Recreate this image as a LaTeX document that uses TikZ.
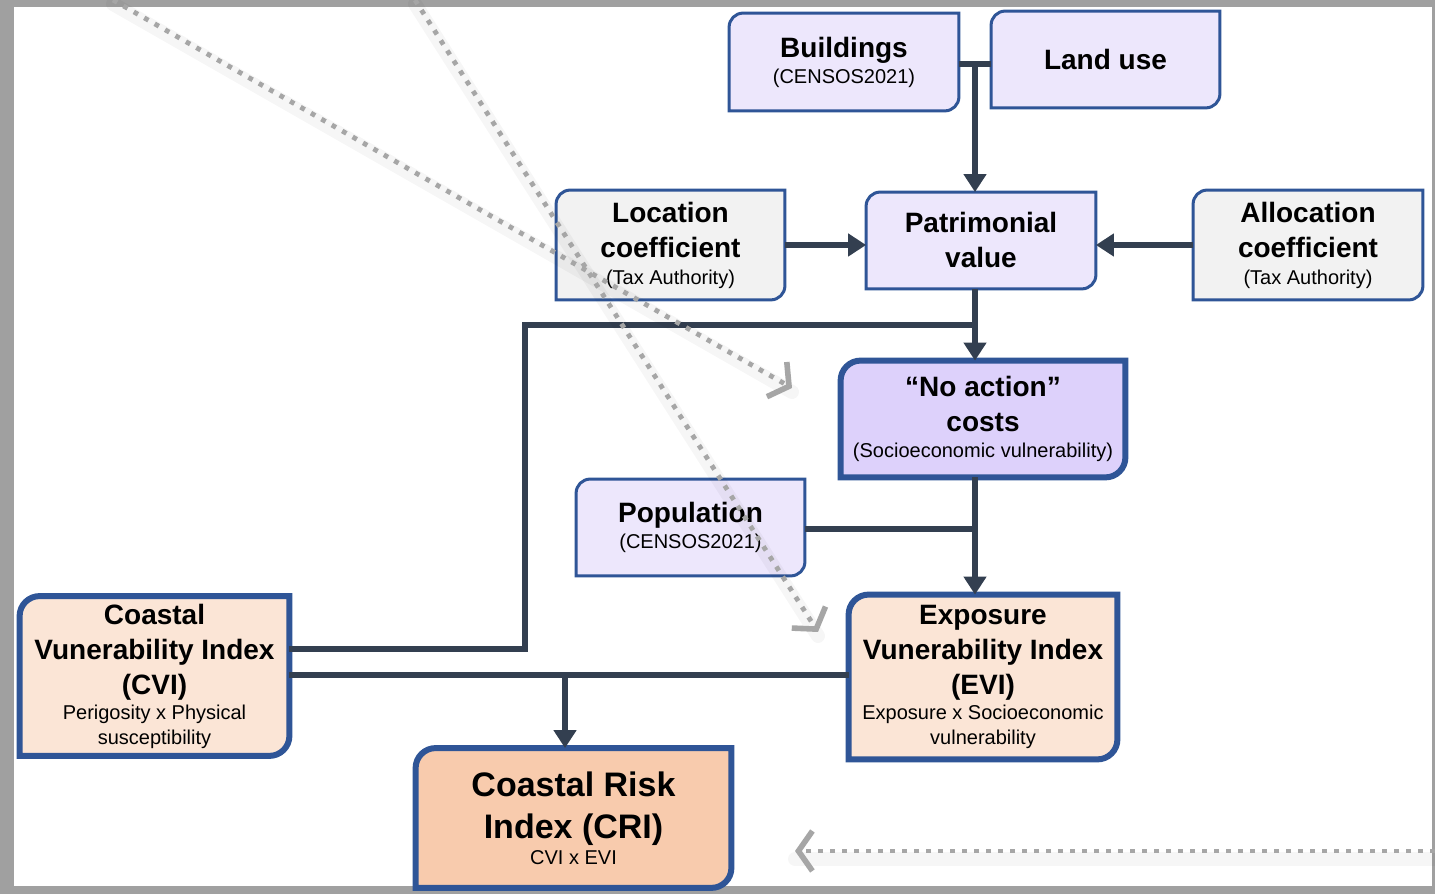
\documentclass[tikz,border=0pt]{standalone}
\usepackage{fontspec}
\setmainfont{Liberation Sans}
\usetikzlibrary{arrows.meta,calc}
\definecolor{bord}{HTML}{2F5597}
\definecolor{conn}{HTML}{333F50}
\definecolor{lav}{HTML}{EDE7FC}
\definecolor{lavdark}{HTML}{DDD1FB}
\definecolor{grayfill}{HTML}{F2F2F2}
\definecolor{peach}{HTML}{FBE5D6}
\definecolor{peachdark}{HTML}{F8CBAD}
\definecolor{dotgray}{HTML}{A6A6A6}
\definecolor{framegray}{HTML}{A0A0A0}
\pgfdeclarelayer{bgzero}
\pgfdeclarelayer{bgone}
\pgfsetlayers{bgzero,bgone,main}
\newcommand\tsub{\fontsize{10}{12}\selectfont\mdseries}
\newcommand\dshape[4]{%
  \filldraw[draw=bord, fill=#2, line width=#3]
   ([yshift=-#4]#1.north west) arc[start angle=180,end angle=90,radius=#4]
   -- (#1.north east) -- ([yshift=#4]#1.south east)
   arc[start angle=0,end angle=-90,radius=#4] -- (#1.south west) -- cycle;}
\tikzset{
  bx/.style={inner sep=0pt, align=center, font=\fontsize{14}{17.5}\selectfont\bfseries},
  conn/.style={draw=conn, line width=3pt},
  arr/.style={-{Triangle[width=11pt,length=9pt]}},
  gdot/.style={draw=dotgray, line width=2.4pt, dash pattern=on 2.4pt off 3.6pt,
     -{Straight Barb[length=7pt,width=20pt,line width=2.8pt]}},
  gshadow/.style={draw=black, opacity=0.035, line width=7pt, line cap=round}
}
\begin{document}
\begin{tikzpicture}[x=0.5pt,y=0.5pt]
\useasboundingbox (0,0) rectangle (1435,894);
\begin{pgfonlayer}{bgzero}
\fill[framegray] (0,0) rectangle (1435,894);
\fill[white] (14,8) rectangle (1432,887);
\end{pgfonlayer}

% nodes
\node[bx, minimum width=114.5pt, minimum height=48.5pt] (bld) at (844,832)
  {Buildings\\[-4.5pt]{\tsub (CENSOS2021)}};
\node[bx, minimum width=114pt, minimum height=48pt] (land) at (1105.5,834.5) {Land use};
\node[bx, minimum width=114pt, minimum height=54.5pt] (loc) at (670.5,649)
  {Location\\coefficient\\[-4pt]{\tsub (Tax Authority)}};
\node[bx, minimum width=114.5pt, minimum height=48pt] (pat) at (981,653.5)
  {Patrimonial\\value};
\node[bx, minimum width=114.5pt, minimum height=54.5pt] (alloc) at (1308,649)
  {Allocation\\coefficient\\[-4pt]{\tsub (Tax Authority)}};
\node[bx, minimum width=142pt, minimum height=58pt] (na) at (983,475)
  {“No action”\\costs\\[-4.5pt]{\tsub (Socioeconomic vulnerability)}};
\node[bx, minimum width=114pt, minimum height=48pt] (pop) at (690.5,366.5)
  {Population\\[-4.5pt]{\tsub (CENSOS2021)}};
\node[bx, minimum width=134.5pt, minimum height=79.5pt] (cvi) at (154.5,218)
  {Coastal\\Vunerability Index\\(CVI)\\[-5pt]{\tsub Perigosity x Physical}\\[-5pt]{\tsub susceptibility}};
\node[bx, minimum width=134pt, minimum height=82pt] (evi) at (983,217)
  {Exposure\\Vunerability Index\\(EVI)\\[-5pt]{\tsub Exposure x Socioeconomic}\\[-5pt]{\tsub vulnerability}};
\node[bx, minimum width=157.5pt, minimum height=69.5pt, font=\fontsize{17}{21}\selectfont\bfseries] (cri) at (573.5,76)
  {Coastal Risk\\Index (CRI)\\[-8pt]{\tsub CVI x EVI}};

\begin{pgfonlayer}{bgone}
\dshape{bld}{lav}{1.5pt}{7pt}
\dshape{land}{lav}{1.5pt}{7pt}
\dshape{loc}{grayfill}{1.5pt}{7pt}
\dshape{pat}{lav}{1.5pt}{7pt}
\dshape{alloc}{grayfill}{1.5pt}{7pt}
\dshape{na}{lavdark}{3pt}{10pt}
\dshape{pop}{lav}{1.5pt}{7pt}
\dshape{cvi}{peach}{3pt}{10pt}
\dshape{evi}{peach}{3pt}{10pt}
\dshape{cri}{peachdark}{3pt}{10pt}
\end{pgfonlayer}

% junctions
\coordinate (jA) at (975,830);
\coordinate (jB) at (975,569);
\coordinate (jC) at (525,245);
\coordinate (jD) at (975,365);
\coordinate (jE) at (565,219);

% connectors
\draw[conn] (bld.east |- jA) -- (land.west |- jA);
\draw[conn,arr] (jA) -- (jA |- pat.north);
\draw[conn,arr] (loc.east) -- (loc.east -| pat.west);
\draw[conn,arr] (alloc.west) -- (alloc.west -| pat.east);
\draw[conn,arr] (jB |- pat.south) -- (jB |- na.north);
\draw[conn] (cvi.east |- jC) -- (jC) -- (jC |- jB) -- (jB);
\draw[conn] (pop.east |- jD) -- (jD);
\draw[conn,arr] (jD |- na.south) -- (jD |- evi.north);
\draw[conn] (cvi.east |- jE) -- (evi.west |- jE);
\draw[conn,arr] (jE) -- (jE |- cri.north);

% gray dotted overlay arrows
\coordinate (g1s) at (113,894);
\coordinate (g1e) at (792,506);
\coordinate (g2s) at (415,894);
\coordinate (g2e) at (818,262);
\coordinate (g3s) at (1435,43);
\coordinate (g3e) at (795,43);
\draw[gshadow] ([yshift=-2pt]g1s) -- ([yshift=-2pt]g1e);
\draw[gshadow] ([yshift=-2pt]g2s) -- ([yshift=-2pt]g2e);
\draw[gshadow] ([yshift=-4pt]g3s) -- ([yshift=-4pt]g3e);
\draw[gdot] (g1s) -- (g1e);
\draw[gdot] (g2s) -- (g2e);
\draw[gdot] (g3s) -- (g3e);
\end{tikzpicture}
\end{document}
